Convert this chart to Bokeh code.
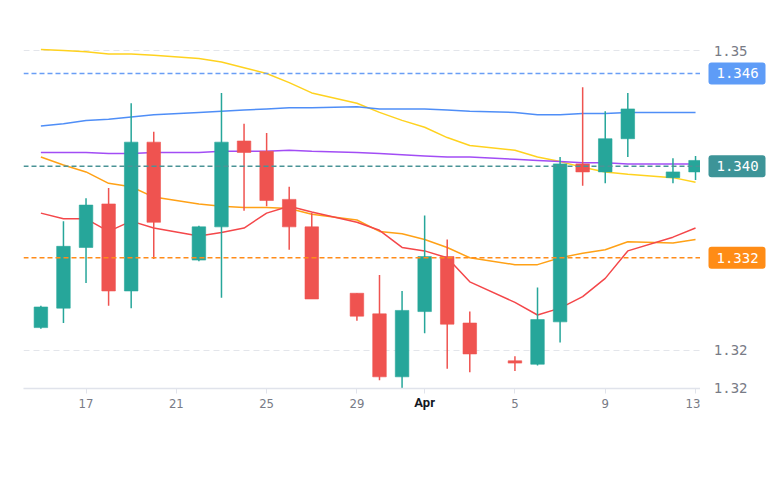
import pandas as pd
from bokeh.plotting import figure
from bokeh.layouts import row
from bokeh.models import (Range1d, LinearAxis, FixedTicker, Span, Grid,
                          ColumnDataSource)
from bokeh.embed import file_html
from bokeh.resources import INLINE

# ---------------- data ----------------
dates = ["2024-03-15", "2024-03-16", "2024-03-17", "2024-03-18", "2024-03-19",
         "2024-03-20", "2024-03-22", "2024-03-23", "2024-03-24", "2024-03-25",
         "2024-03-26", "2024-03-27", "2024-03-29", "2024-03-30", "2024-03-31",
         "2024-04-01", "2024-04-02", "2024-04-03", "2024-04-05", "2024-04-06",
         "2024-04-07", "2024-04-08", "2024-04-09", "2024-04-10", "2024-04-12",
         "2024-04-13"]
open_ = [1.3259, 1.3276, 1.3329, 1.3367, 1.3291, 1.3421, 1.3318, 1.3347, 1.3422, 1.3413,
         1.3371, 1.3347, 1.3289, 1.3271, 1.3216, 1.3273, 1.3321, 1.3263, 1.3230, 1.3227,
         1.3264, 1.3402, 1.3395, 1.3424, 1.3390, 1.3395]
high = [1.3278, 1.3352, 1.3372, 1.3381, 1.3455, 1.3430, 1.3348, 1.3464, 1.3437, 1.3429,
        1.3382, 1.3359, 1.3289, 1.3305, 1.3291, 1.3357, 1.3336, 1.3273, 1.3234, 1.3294,
        1.3408, 1.3469, 1.3448, 1.3464, 1.3407, 1.3409]
low = [1.3258, 1.3263, 1.3298, 1.3278, 1.3276, 1.3319, 1.3317, 1.3285, 1.3361, 1.3365,
       1.3327, 1.3284, 1.3265, 1.3213, 1.3206, 1.3254, 1.3223, 1.3220, 1.3221, 1.3226,
       1.3246, 1.3383, 1.3385, 1.3408, 1.3385, 1.3388]
close = [1.3277, 1.3330, 1.3366, 1.3291, 1.3421, 1.3351, 1.3347, 1.3421, 1.3412, 1.3370,
         1.3347, 1.3284, 1.3269, 1.3216, 1.3274, 1.3321, 1.3262, 1.3236, 1.3228, 1.3266,
         1.3402, 1.3395, 1.3424, 1.3450, 1.3395, 1.3405]

ma_yellow = [1.3502, 1.3501, 1.3500, 1.3498, 1.3498, 1.3497, 1.3494, 1.3491, 1.3486, 1.3481,
             1.3473, 1.3464, 1.3455, 1.3447, 1.3440, 1.3434, 1.3425, 1.3418, 1.3414, 1.3408,
             1.3404, 1.3399, 1.3395, 1.3393, 1.3390, 1.3386]
ma_blue = [1.3435, 1.3437, 1.3440, 1.3441, 1.3443, 1.3445, 1.3447, 1.3448, 1.3449, 1.3450,
           1.3451, 1.3451, 1.3452, 1.3450, 1.3450, 1.3450, 1.3449, 1.3448, 1.3447, 1.3445,
           1.3445, 1.3446, 1.3446, 1.3447, 1.3447, 1.3447]
ma_purple = [1.3412, 1.3412, 1.3412, 1.3411, 1.3411, 1.3412, 1.3412, 1.3413, 1.3413, 1.3413,
             1.3414, 1.3413, 1.3412, 1.3411, 1.3410, 1.3409, 1.3408, 1.3408, 1.3406, 1.3405,
             1.3404, 1.3403, 1.3403, 1.3402, 1.3402, 1.3402]
ma_orange = [1.3408, 1.3401, 1.3395, 1.3385, 1.3382, 1.3373, 1.3367, 1.3365, 1.3364, 1.3364,
             1.3363, 1.3358, 1.3353, 1.3343, 1.3341, 1.3336, 1.3329, 1.3320, 1.3314, 1.3314,
             1.3320, 1.3324, 1.3327, 1.3334, 1.3333, 1.3336]
ma_red = [1.3359, 1.3354, 1.3354, 1.3343, 1.3352, 1.3346, 1.3339, 1.3342, 1.3346, 1.3359,
          1.3365, 1.3360, 1.3351, 1.3344, 1.3329, 1.3326, 1.3320, 1.3299, 1.3281, 1.3270,
          1.3276, 1.3286, 1.3302, 1.3326, 1.3338, 1.3346]

price_line_values = [1.3481, 1.3400, 1.3320]
price_line_labels = ["1.346", "1.340", "1.332"]

ytick_values = [1.32062, 1.3239, 1.3501]
ytick_labels = ["1.32", "1.32", "1.35"]

xtick_dates = ["2024-03-17", "2024-03-21", "2024-03-25", "2024-03-29", "2024-04-01",
               "2024-04-05", "2024-04-09", "2024-04-13"]
xtick_labels = ["17", "21", "25", "29", "Apr", "5", "9", "13"]

# ---------------- styling / geometry ----------------
UP = "#26a69a"
DOWN = "#ef5350"
DAY = 86400000.0

x_ms = [pd.Timestamp(d).value / 1e6 for d in dates]
xt_ms = [pd.Timestamp(d).value / 1e6 for d in xtick_dates]

x_start = pd.Timestamp("2024-03-15").value / 1e6 - 0.77 * DAY
x_end = pd.Timestamp("2024-04-13").value / 1e6 + 0.22 * DAY
y_range = Range1d(1.32058, 1.35360)

src = ColumnDataSource(dict(
    x=x_ms, open=open_, high=high, low=low, close=close,
    top=[max(o, c) for o, c in zip(open_, close)],
    bottom=[min(o, c) for o, c in zip(open_, close)],
    color=[UP if c >= o else DOWN for o, c in zip(open_, close)],
    yellow=ma_yellow, blue=ma_blue, purple=ma_purple, orange=ma_orange, red=ma_red,
))

p = figure(width=700, height=489, output_backend="svg", toolbar_location=None,
           x_range=Range1d(x_start, x_end), y_range=y_range,
           x_axis_type=None, y_axis_type=None,
           min_border_left=23, min_border_right=0, min_border_top=10,
           min_border_bottom=101)
p.outline_line_color = None

yticker = FixedTicker(ticks=ytick_values)
p.add_layout(Grid(dimension=1, ticker=yticker, grid_line_color="#e3e5ea",
                  grid_line_dash="6 4", grid_line_width=1))

# x axis (below)
xaxis = LinearAxis(ticker=FixedTicker(ticks=xt_ms),
                   major_label_overrides={v: ("" if s == "Apr" else s)
                                          for v, s in zip(xt_ms, xtick_labels)})
xaxis.axis_line_color = "#e0e3eb"
xaxis.axis_line_width = 1.5
xaxis.major_tick_line_color = "#e0e3eb"
xaxis.major_tick_in = 0
xaxis.major_tick_out = 5
xaxis.minor_tick_line_color = None
xaxis.major_label_standoff = 5
xaxis.major_label_text_color = "#787b86"
xaxis.major_label_text_font = "Liberation Sans Narrow, DejaVu Sans Condensed, Roboto"
xaxis.major_label_text_font_size = "13px"
p.add_layout(xaxis, "below")

# month label in bold, drawn onto the same label row
apr_ms = [v for v, s in zip(xt_ms, xtick_labels) if s == "Apr"]
maxis = LinearAxis(ticker=FixedTicker(ticks=apr_ms),
                   major_label_overrides={v: "Apr" for v in apr_ms})
maxis.axis_line_color = None
maxis.major_tick_line_color = None
maxis.minor_tick_line_color = None
maxis.major_tick_in = 0
maxis.major_tick_out = 0
maxis.major_label_standoff = -16
maxis.major_label_text_color = "#131722"
maxis.major_label_text_font = "Roboto"
maxis.major_label_text_font_style = "bold"
maxis.major_label_text_font_size = "13px"
p.add_layout(maxis, "below")

# moving-average lines
p.line("x", "yellow", source=src, line_color="#ffd21f", line_width=1.5)
p.line("x", "blue", source=src, line_color="#4f8ef7", line_width=1.5)
p.line("x", "purple", source=src, line_color="#a24df5", line_width=1.5)
p.line("x", "orange", source=src, line_color="#ffa116", line_width=1.5)
p.line("x", "red", source=src, line_color="#f4474a", line_width=1.5)

# price lines
pl_colors = ["#6a9ef5", "#4a9396", "#ff8c1a"]
box_colors = ["#5e9cf7", "#3d9498", "#ff8c16"]
for v, c in zip(price_line_values, pl_colors):
    p.add_layout(Span(location=v, dimension="width", line_color=c,
                      line_dash="5 3", line_width=1.5))

# candles
p.segment("x", "high", "x", "low", source=src, line_color="color", line_width=1.5)
p.vbar(x="x", width=0.6 * DAY, top="top", bottom="bottom", source=src,
       fill_color="color", line_color="color", line_alpha=0.6)

# ---------------- price scale panel (right) ----------------
ps = figure(width=70, height=489, output_backend="svg", toolbar_location=None,
            x_range=Range1d(0, 70), y_range=y_range,
            x_axis_type=None, y_axis_type=None,
            min_border_left=0, min_border_right=0, min_border_top=10,
            min_border_bottom=101)
ps.outline_line_color = None

# tick labels of the price scale
yaxis = LinearAxis(ticker=yticker,
                   major_label_overrides={v: s for v, s in zip(ytick_values, ytick_labels)})
yaxis.axis_line_color = None
yaxis.major_tick_line_color = None
yaxis.minor_tick_line_color = None
yaxis.major_tick_in = 0
yaxis.major_tick_out = 0
yaxis.major_label_standoff = -47
yaxis.major_label_text_color = "#787b86"
yaxis.major_label_text_font = "DejaVu Sans Mono"
yaxis.major_label_text_font_size = "14px"
ps.add_layout(yaxis, "left")

lab_src = ColumnDataSource(dict(y=price_line_values, text=price_line_labels,
                                color=box_colors))
ps.rect(x=36.5, y="y", width=57, height=22, width_units="screen",
        height_units="screen", source=lab_src, fill_color="color",
        line_color=None, border_radius=3)
ps.text(x=16, y="y", text="text", source=lab_src, text_align="left",
        text_baseline="middle", text_color="white",
        text_font={"value": "DejaVu Sans Mono"}, text_font_size="14px")

layout = row(p, ps, spacing=0)
open("out.html", "w").write(file_html(layout, INLINE))
